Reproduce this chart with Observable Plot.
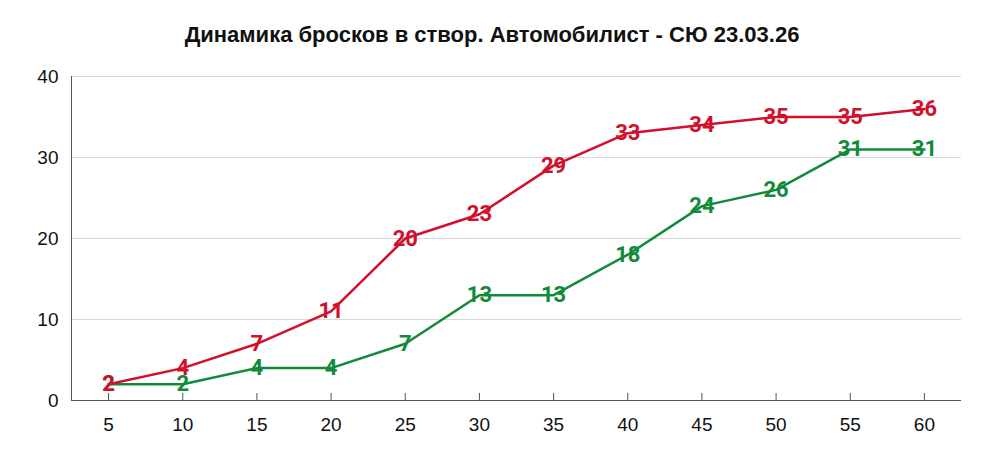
<!DOCTYPE html>
<html><head><meta charset="utf-8">
<script src="https://cdn.jsdelivr.net/npm/d3@7"></script>
<script src="https://cdn.jsdelivr.net/npm/@observablehq/plot@0.6"></script>
<style>
body{margin:0;background:#fff;}
#title{height:60px;text-align:center;font:bold 22px "Liberation Sans",Arial,sans-serif;line-height:70px;color:#111;}
</style></head>
<body>
<div id="title">Динамика бросков в створ. Автомобилист - СЮ 23.03.26</div>
<div id="chart"></div>
<script>
const minutes = [5,10,15,20,25,30,35,40,45,50,55,60];
const avtomobilist = [2,4,7,11,20,23,29,33,34,35,35,36];
const syu = [2,2,4,4,7,13,13,18,24,26,31,31];
const yTicks = [0,10,20,30,40];
const colors = {red:"#d1102b", green:"#13893a"};

const red = minutes.map((m,i)=>({m, v: avtomobilist[i]}));
const green = minutes.map((m,i)=>({m, v: syu[i]}));
const labelFont = {fontFamily:"Roboto, sans-serif", fontWeight:"bold", fontSize:22};

const chart = Plot.plot({
  width: 984, height: 400,
  marginLeft: 71, marginRight: 23, marginTop: 16, marginBottom: 60,
  style: {fontFamily: "'Liberation Sans', Arial, sans-serif", fontSize: "19px", color:"#111"},
  x: {type:"linear", domain:[2.5,62.5], ticks: minutes, label:null},
  y: {domain:[0,40], ticks: yTicks, label:null},
  marks: [
    Plot.gridY(yTicks, {stroke:"#d8d8d8", strokeOpacity:1}),
    Plot.axisY(yTicks, {tickSize:0, tickPadding:13, fontSize:19}),
    Plot.axisX(minutes, {tickSize:-7, tickPadding:24, fontSize:19, stroke:"#555"}),
    Plot.ruleY([0], {stroke:"#555"}),
    Plot.frame({anchor:"left", stroke:"#555"}),
    Plot.line(green, {x:"m", y:"v", stroke:colors.green, strokeWidth:2.5}),
    Plot.line(red, {x:"m", y:"v", stroke:colors.red, strokeWidth:2.5}),
    Plot.text(green, {x:"m", y:"v", text:"v", fill:colors.green, ...labelFont}),
    Plot.text(red, {x:"m", y:"v", text:"v", fill:colors.red, ...labelFont})
  ]
});
document.getElementById("chart").appendChild(chart);
</script>
</body></html>
